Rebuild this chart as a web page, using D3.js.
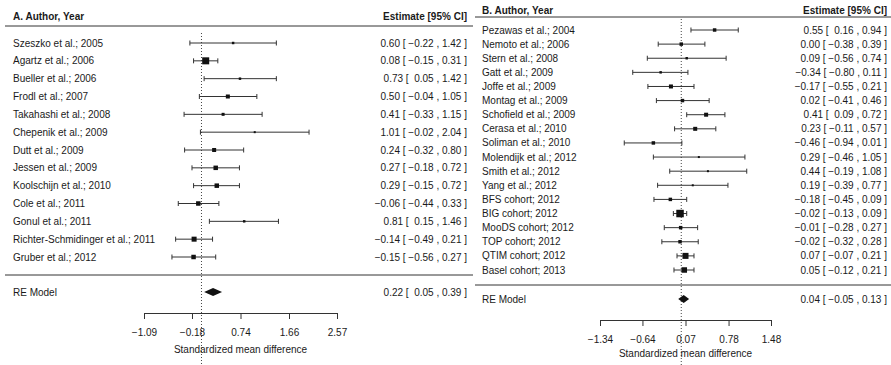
<!DOCTYPE html>
<html><head><meta charset="utf-8">
<script src="https://cdn.jsdelivr.net/npm/d3@7"></script>
<style>
body{margin:0;background:#fff}
svg text{font-family:"Liberation Sans",Arial,sans-serif;fill:#1a1a1a;font-size:10px;white-space:pre}
</style>
</head><body><svg id="c" width="891" height="365"></svg>
<script>
// ---- Panel A data ----
const studiesA = ["Szeszko et al.; 2005","Agartz et al.; 2006","Bueller et al.; 2006","Frodl et al.; 2007","Takahashi et al.; 2008","Chepenik et al.; 2009","Dutt et al.; 2009","Jessen et al.; 2009","Koolschijn et al.; 2010","Cole et al.; 2011","Gonul et al.; 2011","Richter-Schmidinger et al.; 2011","Gruber et al.; 2012"];
const estA   = [0.60, 0.08, 0.73, 0.50, 0.41, 1.01, 0.24, 0.27, 0.29, -0.06, 0.81, -0.14, -0.15];
const lowerA = [-0.22, -0.15, 0.05, -0.04, -0.33, -0.02, -0.32, -0.18, -0.15, -0.44, 0.15, -0.49, -0.56];
const upperA = [1.42, 0.31, 1.42, 1.05, 1.15, 2.04, 0.80, 0.72, 0.72, 0.33, 1.46, 0.21, 0.27];
const weightsA = [6, 49, 6, 16, 9, 4, 16, 20, 20, 20, 6, 25, 20];
const summaryA = [0.22, 0.05, 0.39];
const ticksA = [-1.09, -0.18, 0.74, 1.66, 2.57];

// ---- Panel B data ----
const studiesB = ["Pezawas et al.; 2004","Nemoto et al.; 2006","Stern et al.; 2008","Gatt et al.; 2009","Joffe et al.; 2009","Montag et al.; 2009","Schofield et al.; 2009","Cerasa et al.; 2010","Soliman et al.; 2010","Molendijk et al.; 2012","Smith et al.; 2012","Yang et al.; 2012","BFS cohort; 2012","BIG cohort; 2012","MooDS cohort; 2012","TOP cohort; 2012","QTIM cohort; 2012","Basel cohort; 2013"];
const estB   = [0.55, 0.00, 0.09, -0.34, -0.17, 0.02, 0.41, 0.23, -0.46, 0.29, 0.44, 0.19, -0.18, -0.02, -0.01, -0.02, 0.07, 0.05];
const lowerB = [0.16, -0.38, -0.56, -0.80, -0.55, -0.41, 0.09, -0.11, -0.94, -0.46, -0.19, -0.39, -0.45, -0.13, -0.28, -0.32, -0.07, -0.12];
const upperB = [0.94, 0.39, 0.74, 0.11, 0.21, 0.46, 0.72, 0.57, 0.01, 1.05, 1.08, 0.77, 0.09, 0.09, 0.27, 0.28, 0.21, 0.21];
const weightsB = [12, 12, 6, 6, 16, 12, 16, 16, 12, 4, 4, 4, 12, 56, 12, 12, 36, 30];
const summaryB = [0.04, -0.05, 0.13];
const ticksB = [-1.34, -0.64, 0.07, 0.78, 1.48];

const svg = d3.select("#c");
const f2 = d3.format(".2f");

function padCol(vals){
  const s = vals.map(f2);
  const w = d3.max(s, d => d.length);
  return s.map(d => " ".repeat(w - d.length) + d);
}

function panel(cfg){
  const g = svg.append("g");
  const x = d3.scaleLinear().domain([cfg.ticks[0], cfg.ticks[cfg.ticks.length-1]]).range(cfg.xr);
  const n = cfg.studies.length;
  const y = d3.scaleLinear().domain([0, n-1]).range([cfg.rowTop, cfg.rowBottom]);
  const size = d3.scaleSqrt().domain([0, 56]).range([0, 7.5]);
  const allLo = padCol(cfg.lo.concat([cfg.summary[1]]));
  const allHi = padCol(cfg.hi.concat([cfg.summary[2]]));
  const allE = cfg.est.concat([cfg.summary[0]]).map(f2);
  const label = i => `${allE[i]} [ ${allLo[i]} , ${allHi[i]} ]`;

  // reference dotted line at 0
  g.append("line").attr("x1", x(0)).attr("x2", x(0)).attr("y1", cfg.refTop).attr("y2", 365)
    .attr("stroke", "#444").attr("stroke-width", 1).attr("stroke-dasharray", "1,2");

  // headers
  g.append("text").attr("x", cfg.labelX).attr("y", cfg.headY).attr("font-weight", "bold").text(cfg.title);
  g.append("text").attr("x", cfg.estX).attr("y", cfg.headY).attr("font-weight", "bold").attr("text-anchor", "end").text("Estimate [95% CI]");
  g.append("line").attr("x1", cfg.lx0).attr("x2", cfg.lx1).attr("y1", cfg.headLine).attr("y2", cfg.headLine).attr("stroke", "#333");
  g.append("line").attr("x1", cfg.lx0).attr("x2", cfg.lx1).attr("y1", cfg.sepY).attr("y2", cfg.sepY).attr("stroke", "#333");

  const rows = g.selectAll("g.row").data(d3.range(n)).join("g").attr("class", "row");
  rows.append("text").attr("x", cfg.labelX).attr("y", i => y(i)).attr("dy", "0.35em").text(i => cfg.studies[i]);
  rows.append("text").attr("x", cfg.estX).attr("y", i => y(i)).attr("dy", "0.35em").attr("text-anchor", "end").text(i => label(i));
  rows.append("line").attr("x1", i => x(cfg.lo[i])).attr("x2", i => x(cfg.hi[i]))
    .attr("y1", i => y(i)).attr("y2", i => y(i)).attr("stroke", "#333");
  rows.append("line").attr("x1", i => x(cfg.lo[i])).attr("x2", i => x(cfg.lo[i]))
    .attr("y1", i => y(i)-2.5).attr("y2", i => y(i)+2.5).attr("stroke", "#333");
  rows.append("line").attr("x1", i => x(cfg.hi[i])).attr("x2", i => x(cfg.hi[i]))
    .attr("y1", i => y(i)-2.5).attr("y2", i => y(i)+2.5).attr("stroke", "#333");
  rows.append("rect")
    .attr("x", i => x(cfg.est[i]) - size(cfg.w[i])/2)
    .attr("y", i => y(i) - size(cfg.w[i])/2)
    .attr("width", i => size(cfg.w[i])).attr("height", i => size(cfg.w[i]))
    .attr("fill", "#111");

  // summary
  g.append("text").attr("x", cfg.labelX).attr("y", cfg.reY).attr("dy", "0.35em").text("RE Model");
  g.append("text").attr("x", cfg.estX).attr("y", cfg.reY).attr("dy", "0.35em").attr("text-anchor", "end").text(label(n));
  const s = cfg.summary;
  g.append("path")
    .attr("d", `M${x(s[1])},${cfg.reY} L${x(s[0])},${cfg.reY-4} L${x(s[2])},${cfg.reY} L${x(s[0])},${cfg.reY+4} Z`)
    .attr("fill", "#111");

  // axis
  const ax = g.append("g").attr("transform", `translate(0,${cfg.axisY})`)
    .call(d3.axisBottom(x).tickValues(cfg.ticks).tickFormat(f2).tickSize(6).tickSizeOuter(0).tickPadding(10));
  ax.selectAll("path,line").attr("stroke", "#333");
  ax.selectAll("text").attr("font-size", null).attr("font-family", null).attr("fill", null);
  g.append("text").attr("x", (cfg.xr[0]+cfg.xr[1])/2).attr("y", cfg.titleY).attr("text-anchor", "middle")
    .text("Standardized mean difference");
}

panel({
  title: "A. Author, Year", studies: studiesA, est: estA, lo: lowerA, hi: upperA, w: weightsA,
  summary: summaryA, ticks: ticksA,
  xr: [144, 337], labelX: 13, estX: 467, lx0: 5, lx1: 473,
  headY: 20, headLine: 26, rowTop: 43, rowBottom: 257, sepY: 275, reY: 292,
  axisY: 313, titleY: 353, refTop: 33
});
panel({
  title: "B. Author, Year", studies: studiesB, est: estB, lo: lowerB, hi: upperB, w: weightsB,
  summary: summaryB, ticks: ticksB,
  xr: [600, 771], labelX: 482, estX: 887, lx0: 475, lx1: 891,
  headY: 14, headLine: 17, rowTop: 30, rowBottom: 270, sepY: 285, reY: 299,
  axisY: 320, titleY: 357, refTop: 19
});
</script>
</body></html>
